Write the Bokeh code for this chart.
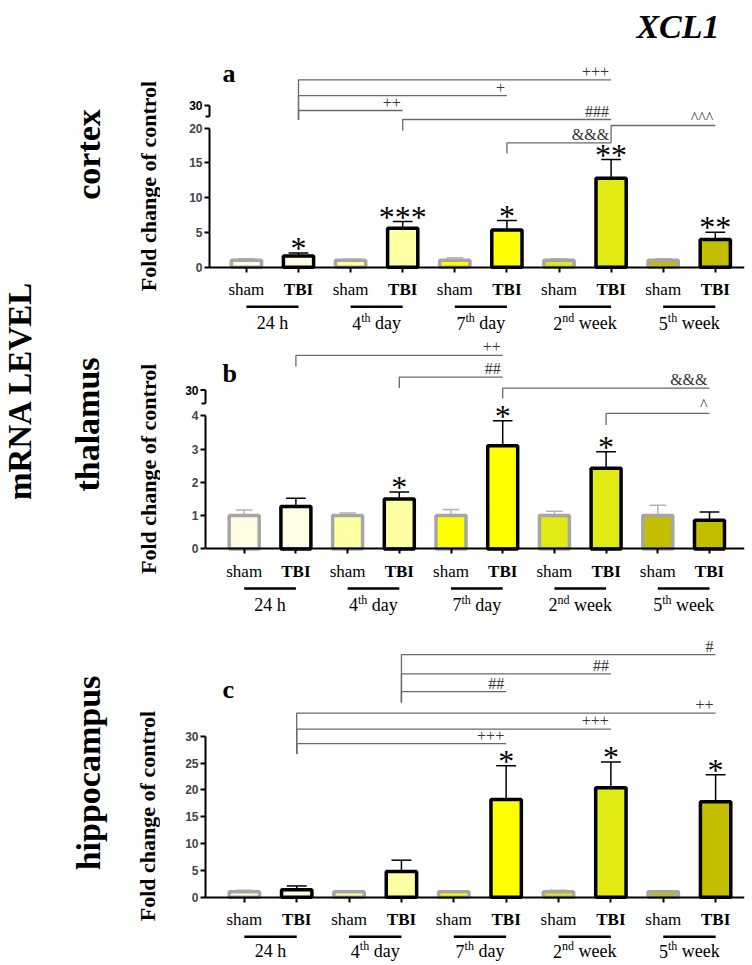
import math
from bokeh.plotting import figure
from bokeh.models import Range1d, FixedTicker
from bokeh.layouts import row, column
from bokeh.embed import file_html
from bokeh.resources import INLINE
from bokeh.core.properties import value

# ---------------- data ----------------
title_text = "XCL1"
side_title = "mRNA LEVEL"
y_title = "Fold change of control"
conditions = ["sham", "TBI"]
group_base = ["24 h", "4", "7", "2", "5"]
group_sup = ["", "th", "th", "nd", "th"]
group_word = ["", "day", "day", "week", "week"]
group_colors = ["#FFFDE3", "#FFFFA3", "#FFFF00", "#E1EA12", "#C3BF00"]
regions = ["cortex", "thalamus", "hippocampus"]
panel_letters = ["a", "b", "c"]

cortex_sham = [1.0, 1.0, 1.0, 1.0, 1.0]
cortex_sham_err = [0.20, 0.15, 0.35, 0.20, 0.20]
cortex_tbi = [1.6, 5.6, 5.35, 12.8, 4.0]
cortex_tbi_err = [0.46, 0.97, 1.36, 2.69, 1.04]
cortex_stars = ["*", "***", "*", "**", "**"]
cortex_ticks = [0, 5, 10, 15, 20]
cortex_break = ("30", 23.27, 21.68)
# label, from TBI of group, to TBI of group, bracket level, left drop end
cortex_brackets = [
    ("+++", 0, 3, 26.96, 21.2),
    ("+", 0, 2, 24.7, 21.2),
    ("++", 0, 1, 22.55, 21.2),
    ("###", 1, 3, 21.25, 19.67),
    ("^^^", 3, 4, 20.39, 17.9),
    ("&&&", 2, 3, 17.9, 16.36),
]

thalamus_sham = [1.0, 1.0, 1.0, 1.0, 1.0]
thalamus_sham_err = [0.17, 0.08, 0.18, 0.13, 0.31]
thalamus_tbi = [1.27, 1.5, 3.1, 2.42, 0.86]
thalamus_tbi_err = [0.25, 0.21, 0.75, 0.50, 0.25]
thalamus_stars = ["", "*", "*", "*", ""]
thalamus_ticks = [0, 1, 2, 3, 4]
thalamus_break = ("30", 4.77, 4.37)
thalamus_brackets = [
    ("++", 0, 2, 5.81, 5.48),
    ("##", 1, 2, 5.16, 4.83),
    ("&&&", 2, 4, 4.83, 4.52),
    ("^", 3, 4, 4.07, 3.72),
]

hippo_sham = [1.0, 1.0, 1.0, 1.0, 1.0]
hippo_sham_err = [0.3, 0.2, 0.2, 0.3, 0.2]
hippo_tbi = [1.4, 4.8, 18.2, 20.4, 17.8]
hippo_tbi_err = [0.7, 2.1, 6.3, 4.8, 5.0]
hippo_stars = ["", "", "*", "*", "*"]
hippo_ticks = [0, 5, 10, 15, 20, 25, 30]
hippo_break = None
hippo_brackets = [
    ("#", 1, 4, 45.2, 36.3),
    ("##", 1, 3, 41.6, 36.3),
    ("##", 1, 2, 38.3, 36.3),
    ("++", 0, 4, 34.3, 26.7),
    ("+++", 0, 3, 31.3, 26.7),
    ("+++", 0, 2, 28.6, 26.7),
]

# ---------------- layout / style ----------------
SERIF = "Liberation Serif"
SANS = "Liberation Sans"
W, H = 752, 965
SPLIT = 160          # left label column ends here (px)
RIGHT = 744          # right end of the x axes (px)
FRAME_LEFT = 185     # left edge of each panel frame (px)
TOP_B = 5
BAR_W = 0.58
SHAM_EDGE = "#A6A6A6"
SHAM_ERR = "#B4B4B4"
BRACKET = "#6A6A6A"
MID = 0.34           # em distance between alphabetic baseline and text middle

LAYOUT = [
    dict(fig_top=0, height=335, axis_px=209, pos0=193.8, sp=52.1, zero=266.7, scale=6.95,
         lab=28, line=39.5, grp=62, letter=(222, 81.7)),
    dict(fig_top=335, height=287, axis_px=205, pos0=192.0, sp=51.7, zero=548.4, scale=33.3,
         lab=28, line=39.5, grp=62, letter=(222, 381.7)),
    dict(fig_top=622, height=343, axis_px=205, pos0=191.5, sp=52.36, zero=896.7, scale=5.367,
         lab=28, line=39.5, grp=60, letter=(222, 698.3)),
]

PANELS = [
    (cortex_sham, cortex_sham_err, cortex_tbi, cortex_tbi_err, cortex_stars, cortex_ticks, cortex_break, cortex_brackets),
    (thalamus_sham, thalamus_sham_err, thalamus_tbi, thalamus_tbi_err, thalamus_stars, thalamus_ticks, thalamus_break, thalamus_brackets),
    (hippo_sham, hippo_sham_err, hippo_tbi, hippo_tbi_err, hippo_stars, hippo_ticks, hippo_break, hippo_brackets),
]

# approximate Times advance widths (em) for centring composite labels
TW = {"0": .5, "1": .5, "2": .5, "3": .5, "4": .5, "5": .5, "6": .5, "7": .5, "8": .5, "9": .5,
      " ": .25, "h": .5, "t": .278, "n": .5, "d": .5, "a": .444, "y": .5, "w": .722, "e": .444, "k": .5}


def tw(s, size):
    return sum(TW.get(c, .5) for c in s) * size


def txt(p, x, y, text, size, style="normal", align="center", base_off=0.0, x_offset=0, font=SERIF,
        color="black"):
    """text whose alphabetic baseline sits base_off px below (x, y)"""
    fs = float(size)
    p.text(x=x, y=y, text=text, x_offset=x_offset, y_offset=base_off - MID * fs,
           text_align=align, text_baseline="middle", text_font=value(font),
           text_font_style=style, text_font_size=f"{size}px", text_color=color)


def build_panel(idx):
    L = LAYOUT[idx]
    sham, sham_err, tbi, tbi_err, stars, ticks, brk, brackets = PANELS[idx]
    zero, sc, pos0, sp = L["zero"], L["scale"], L["pos0"], L["sp"]

    def X(px):
        return (px - pos0) / sp

    def Y(py):
        return (zero - py) / sc

    frame_top = L["fig_top"] + TOP_B
    frame_bot = L["fig_top"] + L["height"]
    ax_x = X(L["axis_px"])
    x_end = X(RIGHT)

    p = figure(width=W - SPLIT, height=L["height"],
               x_range=Range1d(X(FRAME_LEFT), x_end), y_range=Range1d(Y(frame_bot), Y(frame_top)),
               x_axis_location="above", y_axis_location="left",
               output_backend="svg", toolbar_location=None,
               min_border_left=FRAME_LEFT - SPLIT, min_border_right=W - RIGHT,
               min_border_top=TOP_B, min_border_bottom=0)
    p.outline_line_color = None
    p.grid.visible = False
    p.background_fill_color = "white"
    p.border_fill_color = "white"

    n = len(sham)
    xs_sham = [2 * g + 1 for g in range(n)]
    xs_tbi = [2 * g + 2 for g in range(n)]

    # x axis drawn at y = 0
    xa = p.xaxis[0]
    xa.ticker = FixedTicker(ticks=xs_sham + xs_tbi, minor_ticks=[])
    xa.fixed_location = 0
    xa.bounds = (ax_x, x_end)
    xa.major_tick_in = 5
    xa.major_tick_out = 0
    xa.minor_tick_in = 0
    xa.minor_tick_out = 0
    xa.major_label_text_color = None
    xa.major_label_text_font_size = "1px"
    xa.major_label_standoff = 0
    xa.axis_line_width = 2
    xa.major_tick_line_width = 2

    # y axis drawn at the bars' left edge
    ya = p.yaxis[0]
    ya.fixed_location = ax_x
    ya.ticker = FixedTicker(ticks=ticks, minor_ticks=[])
    ya.bounds = (0, ticks[-1])
    ya.major_tick_out = 5
    ya.major_tick_in = 0
    ya.minor_tick_out = 0
    ya.minor_tick_in = 0
    ya.axis_line_width = 2
    ya.major_tick_line_width = 2
    ya.major_label_text_font = SANS
    ya.major_label_text_font_style = "bold"
    ya.major_label_text_font_size = "12px"
    ya.major_label_standoff = 2

    # broken-axis stub with the "30" label
    if brk is not None:
        lab, bt, bb = brk
        p.segment(x0=[ax_x, ax_x - 5 / sp, ax_x - 4 / sp], y0=[bb, bt, bb],
                  x1=[ax_x, ax_x, ax_x], y1=[bt, bt, bb], line_color="black", line_width=2)
        p.text(x=[ax_x], y=[bt], text=[lab], x_offset=-7, text_align="right", text_baseline="middle",
               text_font=value(SANS), text_font_style="bold", text_font_size="12px", text_color="black")

    # error bars
    sham_top = [v + e for v, e in zip(sham, sham_err)]
    tbi_top = [v + e for v, e in zip(tbi, tbi_err)]
    p.segment(x0=xs_sham, y0=sham, x1=xs_sham, y1=sham_top, line_color=SHAM_ERR, line_width=1.5)
    p.segment(x0=[x - 0.16 for x in xs_sham], y0=sham_top, x1=[x + 0.16 for x in xs_sham], y1=sham_top,
              line_color=SHAM_ERR, line_width=1.5)
    p.segment(x0=xs_tbi, y0=tbi, x1=xs_tbi, y1=tbi_top, line_color="black", line_width=1.5)
    p.segment(x0=[x - 0.19 for x in xs_tbi], y0=tbi_top, x1=[x + 0.19 for x in xs_tbi], y1=tbi_top,
              line_color="black", line_width=1.5)

    # bars
    p.vbar(x=xs_sham, top=sham, bottom=0, width=BAR_W, fill_color=group_colors,
           line_color=SHAM_EDGE, line_width=3.5)
    p.vbar(x=xs_tbi, top=tbi, bottom=0, width=BAR_W, fill_color=group_colors,
           line_color="black", line_width=3.5)

    # significance stars
    sx = [x for x, s in zip(xs_tbi, stars) if s]
    sy = [t for t, s in zip(tbi_top, stars) if s]
    st = [s for s in stars if s]
    txt(p, sx, sy, st, 32, base_off=6)

    # brackets
    bxs, bys, lx, ly, lt = [], [], [], [], []
    for lab, g0, g1, lev, drop in brackets:
        xa0, xa1 = xs_tbi[g0], xs_tbi[g1]
        bxs.append([xa0, xa0, xa1])
        bys.append([drop, lev, lev])
        lx.append(xa1)
        ly.append(lev)
        lt.append(lab)
    p.multi_line(xs=bxs, ys=bys, line_color=BRACKET, line_width=1.3)
    txt(p, lx, ly, lt, 16, align="right", base_off=-3, x_offset=-2, color="#333333")

    # category labels below the axis
    zeros = [0] * n
    txt(p, xs_sham, zeros, [conditions[0]] * n, 17, base_off=L["lab"])
    txt(p, xs_tbi, zeros, [conditions[1]] * n, 17, style="bold", base_off=L["lab"])
    uy = -L["line"] / sc
    p.segment(x0=xs_sham, y0=[uy] * n, x1=xs_tbi, y1=[uy] * n, line_color="black", line_width=2.5)

    # group labels with superscripts
    gx = [2 * g + 1.5 for g in range(n)]
    bx, bo, bt_, sx2, so, stt, wx, wo, wt, cx, ct = [], [], [], [], [], [], [], [], [], [], []
    for g in range(n):
        base, sup, word = group_base[g], group_sup[g], group_word[g]
        if not sup:
            cx.append(gx[g])
            ct.append(base)
            continue
        wb, ws, gap, ww = tw(base, 18), tw(sup, 12), 4.5, tw(word, 18)
        start = -(wb + ws + gap + ww) / 2
        bx.append(gx[g]); bo.append(start); bt_.append(base)
        sx2.append(gx[g]); so.append(start + wb); stt.append(sup)
        wx.append(gx[g]); wo.append(start + wb + ws + gap); wt.append(word)
    txt(p, cx, [0] * len(cx), ct, 18, base_off=L["grp"])
    txt(p, bx, [0] * len(bx), bt_, 18, align="left", base_off=L["grp"], x_offset=bo)
    txt(p, sx2, [0] * len(sx2), stt, 12, align="left", base_off=L["grp"] - 7, x_offset=so)
    txt(p, wx, [0] * len(wx), wt, 18, align="left", base_off=L["grp"], x_offset=wo)

    # panel letter
    lxp, lyp = L["letter"]
    txt(p, [X(lxp)], [Y(lyp)], [panel_letters[idx]], 26, style="bold", align="left")

    if idx == 0:
        txt(p, [X(719)], [Y(38)], [title_text], 34, style="bold italic", align="right")
    return p


panels = [build_panel(i) for i in range(3)]

# ---------------- left label column ----------------
left = figure(width=SPLIT, height=H, x_range=Range1d(0, SPLIT), y_range=Range1d(0, H),
              x_axis_type=None, y_axis_type=None, output_backend="svg", toolbar_location=None,
              min_border=0)
left.outline_line_color = None
left.grid.visible = False


def rot_label(text, base_x, center_y, size):
    # rotated (reads bottom to top); baseline lies on the right-hand side
    left.text(x=[base_x - MID * size], y=[H - center_y], text=[text], angle=math.pi / 2,
              text_align="center", text_baseline="middle", text_font=value(SERIF),
              text_font_style="bold", text_font_size=f"{size}px", text_color="black")


rot_label(side_title, 31, 390, 33)
rot_label(regions[0], 100, 154, 34)
rot_label(regions[1], 98.3, 424, 34)
rot_label(regions[2], 100, 772.5, 34)
rot_label(y_title, 155, 185.5, 22)
rot_label(y_title, 155, 468.3, 22)
rot_label(y_title, 154, 815.5, 22)

layout = row(left, column(*panels, spacing=0), spacing=0)
open("out.html", "w").write(file_html(layout, INLINE))
